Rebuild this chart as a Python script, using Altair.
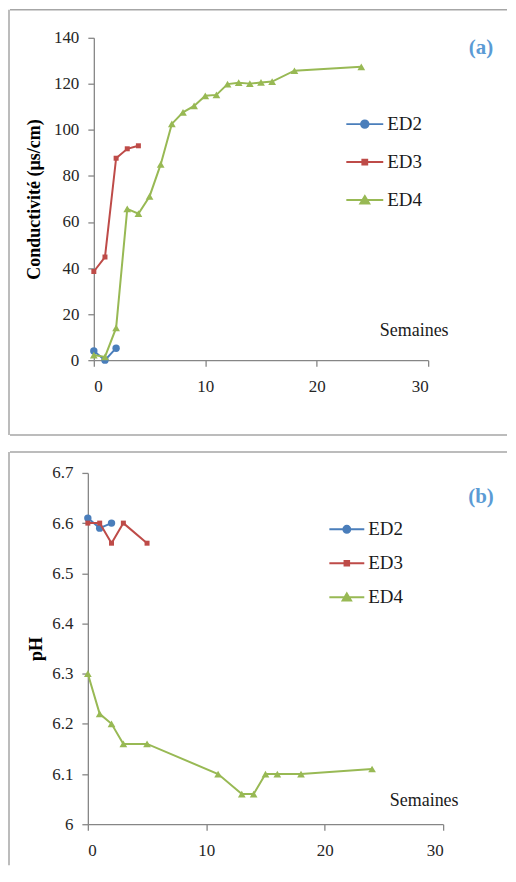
import altair as alt
import pandas as pd

FONT = "Liberation Serif"

series = ["ED2", "ED3", "ED4"]
colors = ["#4A7EBB", "#BE4B48", "#98B954"]
marker_shapes = ["circle", "square", "triangle-up"]
marker_sizes = [55, 25, 60]

# Panel (a) : conductivity
a_weeks = [
    [0, 1, 2],
    [0, 1, 2, 3, 4],
    [0, 1, 2, 3, 4, 5, 6, 7, 8, 9, 10, 11, 12, 13, 14, 15, 16, 18, 24],
]
a_values = [
    [4, 0, 5.2],
    [38.5, 44.8, 87.7, 91.8, 93.1],
    [2.2, 1.4, 14, 65.7, 63.6, 71.1, 85, 102.6, 107.6, 110.4, 114.8, 115.2,
     119.9, 120.5, 120.1, 120.6, 121, 125.7, 127.4],
]

# Panel (b) : pH
b_weeks = [
    [0, 1, 2],
    [0, 1, 2, 3, 5],
    [0, 1, 2, 3, 5, 11, 13, 14, 15, 16, 18, 24],
]
b_values = [
    [6.61, 6.59, 6.60],
    [6.60, 6.60, 6.56, 6.60, 6.56],
    [6.30, 6.22, 6.20, 6.16, 6.16, 6.10, 6.06, 6.06, 6.10, 6.10, 6.10, 6.11],
]

x_ticks = [0, 10, 20, 30]
a_y_ticks = [0, 20, 40, 60, 80, 100, 120, 140]
b_y_ticks = [6.0, 6.1, 6.2, 6.3, 6.4, 6.5, 6.6, 6.7]

a_ytitle = "Conductivité (µs/cm)"
b_ytitle = "pH"
x_label = "Semaines"
a_tag = "(a)"
b_tag = "(b)"

legend_paths = [
    "M-1,0H1M0.2,0A0.2,0.2,0,1,1,-0.2,0A0.2,0.2,0,1,1,0.2,0Z",
    "M-1,0H1M-0.13,-0.13H0.13V0.13H-0.13Z",
    "M-1,0H1M0,-0.21L0.24,0.19H-0.24Z",
]

FRAME = "#A6A6A6"
TXT = "#1a1a1a"


def one(v):
    return pd.DataFrame({"v": [v]})


def panel(weeks, values, width, height, xrange, ydomain, yticks, ytitle,
          yoffset, title_pad, leg_x, leg_y, sym_size, row_pad,
          sem_x, sem_y, tag, tag_x, tag_y, frame, yfmt):
    xscale = alt.Scale(domain=[0, 30], range=xrange, nice=False, zero=False)
    yscale = alt.Scale(domain=ydomain, nice=False, zero=False)
    xaxis = alt.Axis(values=x_ticks, title=None, labelPadding=12)
    yaxis = alt.Axis(values=yticks, title=ytitle, offset=yoffset,
                     labelPadding=9, titlePadding=title_pad, format=yfmt)
    layers = []
    for name, xs, ys, col, shp, sz in zip(series, weeks, values, colors,
                                          marker_shapes, marker_sizes):
        df = pd.DataFrame({"week": xs, "value": ys, "series": name})
        base = alt.Chart(df).encode(
            x=alt.X("week:Q", scale=xscale, axis=xaxis),
            y=alt.Y("value:Q", scale=yscale, axis=yaxis),
        )
        layers.append(base.mark_line(color=col, strokeWidth=2))
        layers.append(base.mark_point(shape=shp, filled=True, color=col,
                                      size=sz, opacity=1))

    leg = alt.Legend(orient="none", legendX=leg_x, legendY=leg_y, title=None,
                     symbolSize=sym_size, symbolStrokeWidth=2,
                     labelFont=FONT, labelFontSize=19, labelColor=TXT,
                     labelOffset=3, rowPadding=row_pad, padding=0)
    leg_df = pd.DataFrame({"series": series})
    layers.append(
        alt.Chart(leg_df).transform_filter("false").mark_point(filled=True, opacity=1).encode(
            fill=alt.Fill("series:N", scale=alt.Scale(domain=series, range=colors), legend=leg),
            stroke=alt.Stroke("series:N", scale=alt.Scale(domain=series, range=colors), legend=leg),
            shape=alt.Shape("series:N", scale=alt.Scale(domain=series, range=legend_paths), legend=leg),
        )
    )

    layers.append(
        alt.Chart(one(x_label)).mark_text(font=FONT, fontSize=18, color=TXT,
                                          align="center", baseline="alphabetic")
        .encode(x=alt.value(sem_x), y=alt.value(sem_y), text="v:N")
    )
    layers.append(
        alt.Chart(one(tag)).mark_text(font=FONT, fontSize=21, fontWeight="bold",
                                      color="#5B9BD5", align="center", baseline="alphabetic")
        .encode(x=alt.value(tag_x), y=alt.value(tag_y), text="v:N")
    )
    for (x1, x2, y1, y2) in frame:
        if y2 is None:
            enc = dict(x=alt.value(x1), x2=alt.value(x2), y=alt.value(y1))
        else:
            enc = dict(x=alt.value(x1), y=alt.value(y1), y2=alt.value(y2))
        layers.append(alt.Chart(one(0)).mark_rule(color=FRAME, strokeWidth=1.5).encode(**enc))

    return alt.layer(*layers).properties(width=width, height=height)


pa = panel(a_weeks, a_values, 341, 323, [6, 341], [0, 140], a_y_ticks, a_ytitle,
           -6, 10, 258, 67, 1369, 8, 327, 299, a_tag, 394, 16,
           [(-78, 420, -28, None), (-78, 420, 398, None), (-79, None, -28, 398)], "d")
pb = panel(b_weeks, b_values, 356, 352, [0, 356], [6.0, 6.7], b_y_ticks, b_ytitle,
           0, 6, 241, 38, 1225, 5, 337, 334, b_tag, 394, 30,
           [(-78, 420, -21, None), (-79, None, -21, 393)], "~g")

chart = alt.vconcat(pa, pb, spacing=113, bounds="flush").resolve_scale(
    fill="independent", stroke="independent", shape="independent"
).resolve_legend(
    fill="independent", stroke="independent", shape="independent"
).properties(padding=0).configure_view(stroke=None).configure_axis(
    grid=False,
    domainColor="#868686", domainWidth=1.3,
    tickColor="#868686", tickWidth=1.3, tickSize=6,
    labelFont=FONT, labelFontSize=17, labelColor="#262626",
    titleFont=FONT, titleFontSize=18, titleFontWeight="bold", titleColor="#000000",
)

chart.save("out.html", embed_options={"renderer": "svg", "actions": False})
